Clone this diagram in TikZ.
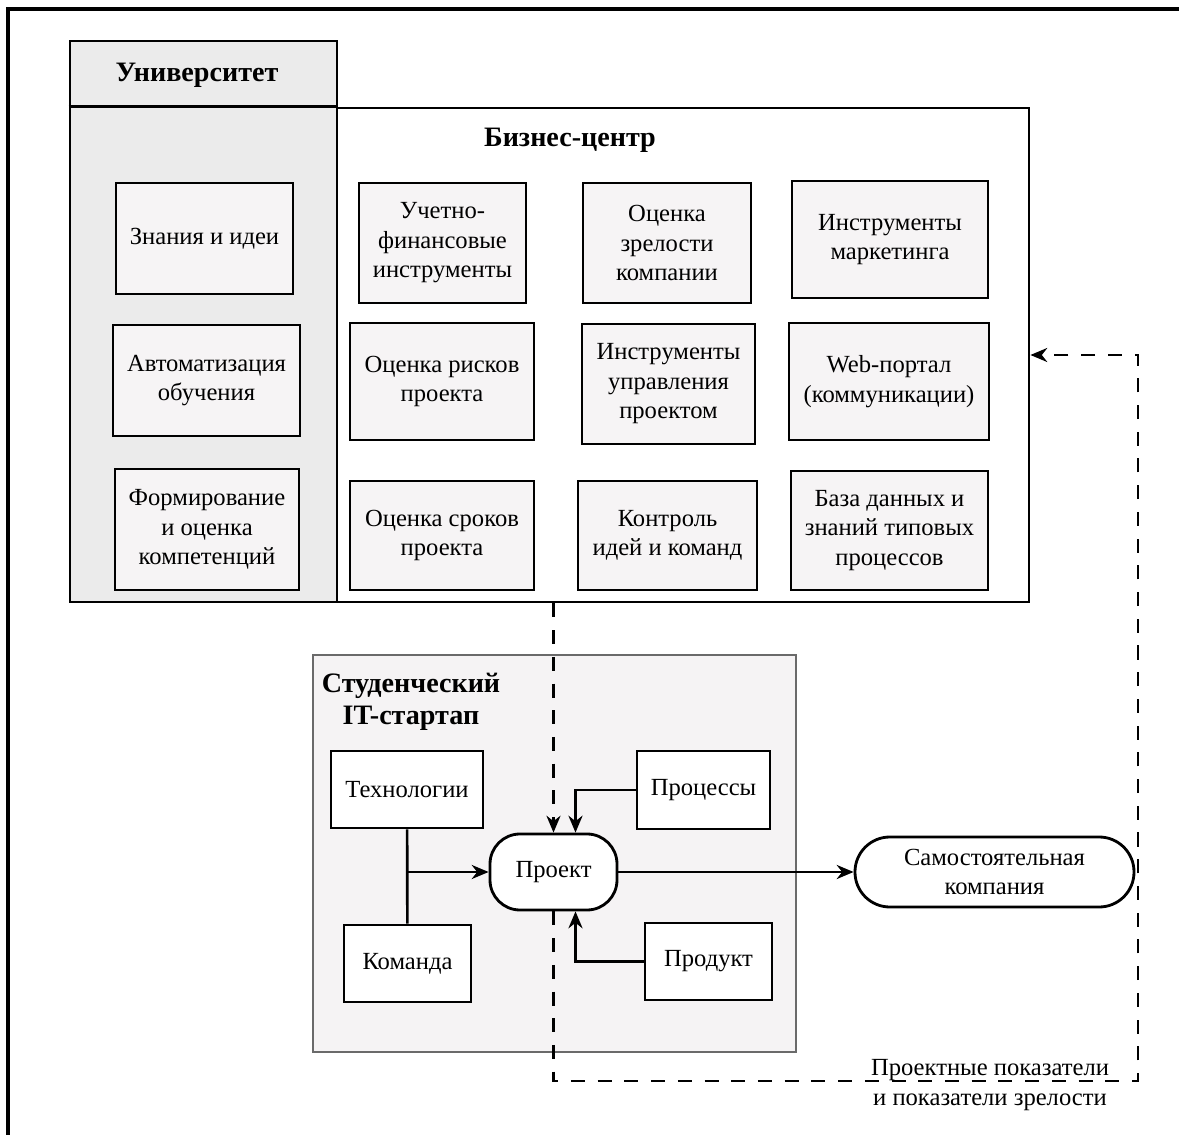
\documentclass[tikz,border=0pt]{standalone}
\usepackage{fontspec}
\setmainfont{Liberation Serif}
\usetikzlibrary{arrows.meta,positioning}
\definecolor{unifill}{HTML}{EBEBEB}
\definecolor{toolfill}{HTML}{F6F4F5}
\definecolor{startfill}{HTML}{F5F3F4}
\definecolor{startline}{HTML}{6A6A6A}
\begin{document}
\begin{tikzpicture}[x=0.025cm,y=-0.025cm,
  txt/.style={font=\fontsize{17.5}{21}\selectfont,align=center},
  head/.style={font=\fontsize{20}{23}\selectfont\bfseries,align=center},
  sz/.style 2 args={minimum width=#1*0.025cm,minimum height=#2*0.025cm},
  tool/.style={txt,draw,line width=2pt,fill=toolfill,inner sep=0pt},
  part/.style={txt,draw,line width=2pt,fill=white,inner sep=0pt},
  link/.style={line width=1.9pt,-{Stealth[length=12pt,width=10pt]}},
  dlink/.style={link,line width=1.7pt,dash pattern=on 10pt off 9pt}]
\useasboundingbox (0,0) rectangle (1179,1135);
\draw[line width=2.4pt] (8,1135) -- (8,9) -- (1179,9);

% University and business centre
\node[draw,line width=2pt,fill=unifill,sz={267}{561}] (uni) at (203.5,321.5) {};
\node[draw,line width=2pt,fill=white,sz={692}{494}] (bc) at (683,355) {};
\draw[line width=2pt] (uni.west |- bc.north) -- (bc.north west);
\node[head] (unititle) at (197,75) {Университет};
\node[head] (bctitle) at (570,140) {Бизнес-центр};

% University tools
\foreach \n/\x/\y/\w/\h/\t in {
  know/204.5/238.5/177/111/{Знания и идеи},
  auto/206.5/380.5/187/111/{Автоматизация\\обучения},
  comp/207/529.5/184/121/{Формирование\\и оценка\\компетенций}} {
  \node[tool,sz={\w}{\h}] (\n) at (\x,\y) {\t};
}

% Business centre tools
\foreach \n/\x/\y/\w/\h/\t in {
  fin/442.5/243/167/120/{Учетно-\\финансовые\\инструменты},
  mat/667/243/168/120/{Оценка\\зрелости\\компании},
  mark/890/239.5/196/117/{Инструменты\\маркетинга},
  risk/442/381.5/184/117/{Оценка рисков\\проекта},
  mgmt/668.5/384/173/120/{Инструменты\\управления\\проектом},
  web/889/381.5/200/117/{Web-портал\\(коммуникации)},
  term/442/535.5/184/109/{Оценка сроков\\проекта},
  ctrl/667.5/535.5/179/109/{Контроль\\идей и команд},
  base/889.5/530.5/197/119/{База данных и\\знаний типовых\\процессов}} {
  \node[tool,sz={\w}{\h}] (\n) at (\x,\y) {\t};
}

% Student startup
\node[draw=startline,line width=1.2pt,fill=startfill,sz={483}{397}] (st) at (554.5,853.5) {};
\node[head] (sttitle) at (411,702) {Студенческий\\IT-стартап};
\node[part,sz={152}{77}] (tech) at (407,789.5) {Технологии};
\node[part,sz={127}{77}] (team) at (407.5,963.5) {Команда};
\node[part,sz={133}{78}] (proc) at (703.5,790) {Процессы};
\node[part,sz={127}{77}] (prod) at (708.5,961.5) {Продукт};
\node[part,rounded corners=0.75cm,sz={127}{76}] (proj) at (553.5,872) {Проект};
\node[part,rounded corners=0.87cm,sz={279}{70}] (firm) at (994.5,872) {Самостоятельная\\компания};

% Links
\draw[line width=1.9pt] (tech) -- (team);
\draw[link] (tech.south |- proj) -- (proj);
\draw[link] (proc.west) -| ([shift={(22,0)}]proj.north);
\draw[link] (prod.west) -| ([shift={(22,0)}]proj.south);
\draw[link] (proj) -- (firm);

% Feedback loop
\coordinate (loop) at (1138,1081);
\draw[dlink] (proj.north |- bc.south) -- (proj.north);
\draw[dlink] (proj.south) |- (loop) |- (bc.east);
\node[txt] (kpi) at (990,1085) {Проектные показатели\\и показатели зрелости};
\end{tikzpicture}
\end{document}
